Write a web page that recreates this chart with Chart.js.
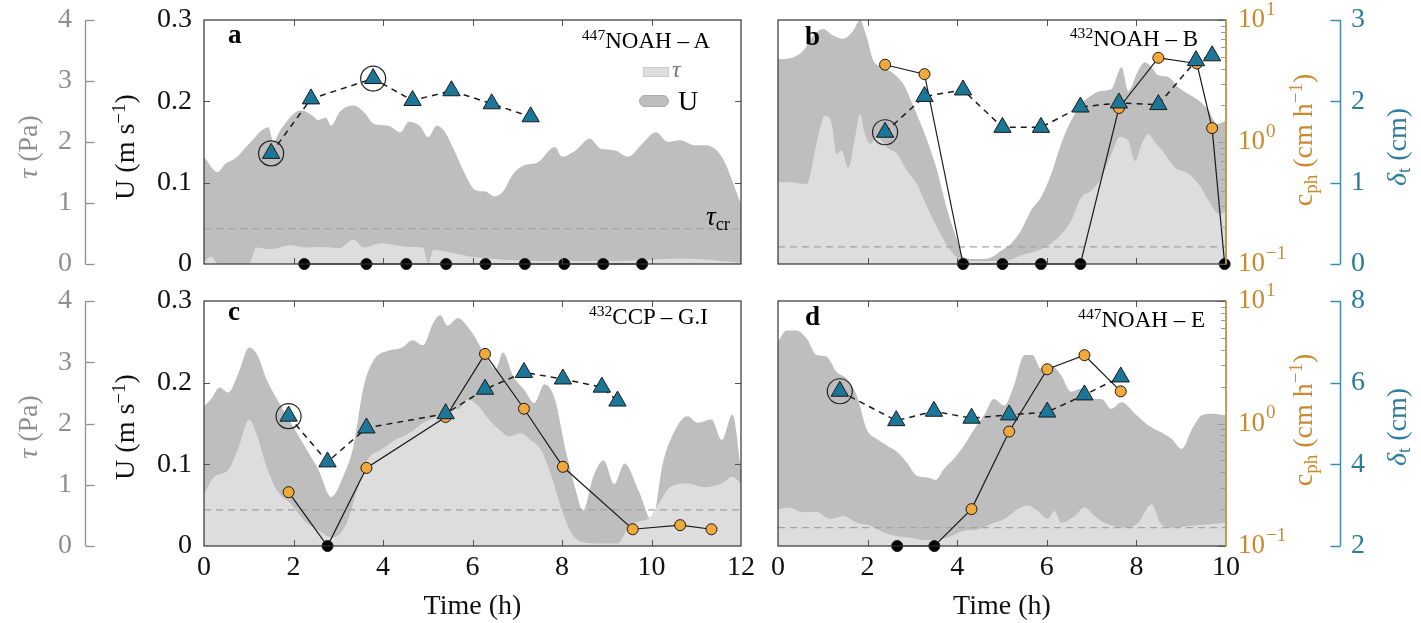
<!DOCTYPE html>
<html>
<head>
<meta charset="utf-8">
<script src="https://cdn.jsdelivr.net/npm/chart.js@4.4.0/dist/chart.umd.min.js"></script>
<style>
  body { margin: 0; background: #fff; width: 1421px; height: 623px; position: relative; overflow: hidden;
         font-family: "Liberation Serif", "DejaVu Serif", serif; }
  canvas { position: absolute; }
  .lab { position: absolute; white-space: nowrap; line-height: 1; z-index: 5; }
  .rot { transform: translate(-50%, -50%) rotate(-90deg); }
  .sup { font-size: 68%; vertical-align: 0.5em; }
  .sub { font-size: 68%; vertical-align: -0.25em; }
  .sw { position: absolute; z-index: 5; }
</style>
</head>
<body>
<canvas id="ca" width="760" height="280" style="left:0;top:0"></canvas>
<canvas id="cb" width="681" height="280" style="left:740px;top:0"></canvas>
<canvas id="cc" width="760" height="343" style="left:0;top:280px"></canvas>
<canvas id="cd" width="681" height="343" style="left:740px;top:280px"></canvas>

<!-- left axis titles -->
<div class="lab rot" style="left:28px;top:147px;color:#8f8f8f;font-size:28px"><i>τ</i> (Pa)</div>
<div class="lab rot" style="left:124px;top:147px;color:#111;font-size:28px">U (m s<span class="sup">−1</span>)</div>
<div class="lab rot" style="left:28px;top:427px;color:#8f8f8f;font-size:28px"><i>τ</i> (Pa)</div>
<div class="lab rot" style="left:124px;top:427px;color:#111;font-size:28px">U (m s<span class="sup">−1</span>)</div>
<!-- right axis titles -->
<div class="lab rot" style="left:1303px;top:140px;color:#c98a30;font-size:28px">c<span class="sub">ph</span> (cm h<span class="sup">−1</span>)</div>
<div class="lab rot" style="left:1398px;top:147px;color:#2d7c9b;font-size:28px"><i>δ</i><span class="sub">t</span> (cm)</div>
<div class="lab rot" style="left:1303px;top:420px;color:#c98a30;font-size:28px">c<span class="sub">ph</span> (cm h<span class="sup">−1</span>)</div>
<div class="lab rot" style="left:1398px;top:427px;color:#2d7c9b;font-size:28px"><i>δ</i><span class="sub">t</span> (cm)</div>

<!-- panel letters -->
<div class="lab" style="left:228px;top:21px;font-size:27px;font-weight:bold">a</div>
<div class="lab" style="left:805px;top:23px;font-size:27px;font-weight:bold">b</div>
<div class="lab" style="left:228px;top:298px;font-size:27px;font-weight:bold">c</div>
<div class="lab" style="left:805px;top:303px;font-size:27px;font-weight:bold">d</div>

<!-- site labels -->
<div class="lab" style="right:711px;top:27px;font-size:23px"><span class="sup">447</span>NOAH – A</div>
<div class="lab" style="right:223px;top:25px;font-size:23px"><span class="sup">432</span>NOAH – B</div>
<div class="lab" style="right:713px;top:303px;font-size:23px"><span class="sup">432</span>CCP – G.I</div>
<div class="lab" style="right:216px;top:306px;font-size:23px"><span class="sup">447</span>NOAH – E</div>

<!-- legend in panel a -->
<div class="sw" style="left:643px;top:67px;width:24px;height:8px;background:#dddddd;border:1px solid #cbcbcb"></div>
<div class="lab" style="left:672px;top:57px;font-size:24px;font-style:italic;color:#777">τ</div>
<div class="sw" style="left:639px;top:95px;width:28px;height:10px;background:#bebebe;border:1px solid #ababab;border-radius:6px"></div>
<div class="lab" style="left:678px;top:87px;font-size:28px">U</div>

<!-- tau_cr label -->
<div class="lab" style="left:706px;top:203px;font-size:27px"><i>τ</i><span class="sub">cr</span></div>

<script>
// ---------- panel a : 447NOAH - A ----------
const aUTime = [0, 0.31, 0.47, 0.70, 1.01, 1.44, 1.55, 1.71, 2.17, 2.41, 2.56, 2.72, 2.84, 3.03, 3.34, 3.57, 3.81, 4.12, 4.39, 4.58, 4.82, 5.01, 5.20, 5.36, 5.59, 5.83, 6.06, 6.29, 6.49, 6.68, 6.91, 7.15, 7.46, 7.84, 8.0, 8.31, 8.62, 8.86, 9.17, 9.48, 9.79, 10.1, 10.37, 10.64, 10.95, 11.18, 11.57, 12];
const aU = [0.132, 0.113, 0.123, 0.130, 0.148, 0.168, 0.150, 0.165, 0.189, 0.183, 0.177, 0.180, 0.170, 0.187, 0.195, 0.187, 0.172, 0.170, 0.162, 0.175, 0.170, 0.156, 0.170, 0.164, 0.140, 0.111, 0.091, 0.089, 0.083, 0.089, 0.111, 0.121, 0.125, 0.144, 0.132, 0.140, 0.154, 0.142, 0.140, 0.132, 0.148, 0.162, 0.150, 0.152, 0.146, 0.146, 0.132, 0.074];
const aTauTime = [0, 0.16, 0.31, 1.01, 1.17, 1.48, 1.94, 2.25, 2.64, 3.03, 3.34, 3.57, 3.96, 4.27, 4.58, 4.89, 5.01, 5.13, 5.51, 5.98, 6.52, 7.30, 8.08, 9.24, 10.64, 11.57, 12];
const aTau = [0.04, 0.12, 0.01, 0.01, 0.27, 0.24, 0.31, 0.27, 0.28, 0.26, 0.40, 0.27, 0.34, 0.31, 0.28, 0.27, 0.01, 0.23, 0.19, 0.12, 0.08, 0.05, 0.05, 0.05, 0.09, 0.05, 0.02];
const aTauCr = 0.58;
const aDeltaTime = [1.5, 2.39, 3.78, 4.66, 5.53, 6.43, 7.30];
const aDelta = [1.36, 2.03, 2.28, 2.01, 2.13, 1.97, 1.81];
const aCircled = [0, 2];
const aCphTime = [2.24, 3.63, 4.52, 5.41, 6.29, 7.17, 8.05, 8.92, 9.79];
const aCph = [0, 0, 0, 0, 0, 0, 0, 0, 0];

// ---------- panel b : 432NOAH - B ----------
const bUTime = [0, 0.26, 0.56, 0.79, 1.01, 1.23, 1.46, 1.68, 1.83, 1.98, 2.13, 2.36, 2.58, 2.80, 3.03, 3.33, 3.55, 3.78, 4.00, 4.15, 4.45, 4.75, 4.97, 5.20, 5.42, 5.65, 5.87, 6.10, 6.32, 6.54, 6.77, 6.99, 7.22, 7.44, 7.67, 7.82, 8.04, 8.19, 8.34, 8.49, 8.71, 8.94, 9.16, 9.39, 9.61, 9.80, 10];
const bU = [0.252, 0.253, 0.262, 0.281, 0.289, 0.281, 0.277, 0.287, 0.300, 0.279, 0.250, 0.242, 0.234, 0.221, 0.193, 0.152, 0.115, 0.066, 0.029, 0.008, 0.006, 0.008, 0.016, 0.025, 0.041, 0.066, 0.082, 0.111, 0.148, 0.176, 0.197, 0.207, 0.213, 0.215, 0.242, 0.213, 0.238, 0.248, 0.242, 0.232, 0.230, 0.217, 0.209, 0.201, 0.189, 0.172, 0.176];
const bTauTime = [0, 0.26, 0.64, 0.86, 1.05, 1.20, 1.31, 1.42, 1.57, 1.72, 1.83, 1.94, 2.06, 2.21, 2.43, 2.66, 2.88, 3.10, 3.33, 3.55, 3.78, 4.00, 4.30, 5.05, 5.42, 5.80, 6.17, 6.54, 6.77, 6.99, 7.22, 7.44, 7.63, 7.82, 7.97, 8.12, 8.27, 8.42, 8.64, 8.86, 9.16, 9.39, 9.61, 9.84, 10];
const bTau = [1.34, 1.34, 1.31, 1.97, 2.43, 2.30, 1.80, 1.86, 1.58, 2.08, 2.46, 2.13, 1.97, 2.08, 1.91, 1.80, 1.53, 1.31, 0.93, 0.60, 0.30, 0.11, 0.05, 0.05, 0.14, 0.22, 0.38, 0.71, 1.09, 1.20, 1.42, 1.80, 2.08, 2.02, 1.69, 1.97, 2.13, 1.99, 1.80, 1.58, 1.48, 1.31, 1.04, 0.82, 0.87];
const bTauCr = 0.28;
const bDeltaTime = [2.39, 3.27, 4.13, 5.01, 5.87, 6.75, 7.61, 8.49, 9.33, 9.69];
const bDelta = [1.62, 2.06, 2.14, 1.68, 1.68, 1.93, 1.98, 1.96, 2.50, 2.56];
const bCircled = [0];
const bCphTime = [2.39, 3.27, 4.13, 5.01, 5.87, 6.75, 7.61, 8.49, 9.35, 9.69, 9.97];
const bCph = [4.3, 3.6, 0, 0, 0, 0, 1.9, 4.9, 4.4, 1.3, 0];

// ---------- panel c : 432CCP - G.I ----------
const cUTime = [0, 0.16, 0.35, 0.54, 0.78, 1.01, 1.20, 1.40, 1.63, 1.94, 2.25, 2.56, 2.84, 3.11, 3.34, 3.57, 3.81, 4.12, 4.43, 4.66, 4.89, 5.13, 5.28, 5.44, 5.67, 5.98, 6.29, 6.52, 6.68, 6.91, 7.15, 7.38, 7.61, 7.84, 8.08, 8.31, 8.47, 8.70, 8.93, 9.17, 9.40, 9.71, 10.02, 10.25, 10.49, 10.80, 11.03, 11.34, 11.57, 11.81, 12];
const cU = [0.171, 0.180, 0.194, 0.188, 0.213, 0.243, 0.233, 0.204, 0.180, 0.151, 0.122, 0.093, 0.060, 0.085, 0.122, 0.196, 0.229, 0.239, 0.243, 0.252, 0.246, 0.274, 0.283, 0.270, 0.279, 0.262, 0.233, 0.217, 0.237, 0.208, 0.192, 0.175, 0.198, 0.180, 0.118, 0.068, 0.043, 0.085, 0.105, 0.076, 0.101, 0.068, 0.031, 0.101, 0.138, 0.159, 0.151, 0.155, 0.130, 0.161, 0.093];
const cTauTime = [0, 0.23, 0.54, 0.78, 1.01, 1.17, 1.40, 1.63, 1.94, 2.25, 2.56, 2.87, 3.18, 3.42, 3.65, 3.96, 4.27, 4.58, 4.89, 5.20, 5.44, 5.67, 5.90, 6.14, 6.37, 6.60, 6.83, 7.07, 7.30, 7.53, 7.77, 8.0, 8.23, 8.47, 8.85, 9.24, 9.48, 9.71, 9.94, 10.17, 10.41, 10.80, 11.18, 11.57, 11.81, 12];
const cTau = [0.85, 1.13, 1.24, 1.62, 2.06, 1.84, 1.29, 0.91, 0.69, 0.41, 0.25, 0.14, 0.36, 0.91, 1.40, 1.57, 1.73, 1.84, 2.01, 2.12, 2.28, 2.23, 2.39, 2.28, 2.06, 1.90, 1.79, 1.84, 1.73, 1.57, 1.13, 0.58, 0.19, 0.06, 0.04, 0.04, 0.30, 0.40, 0.45, 0.70, 0.96, 1.02, 0.96, 1.02, 1.13, 1.02];
const cTauCr = 0.59;
const cDeltaTime = [1.89, 2.76, 3.63, 5.40, 6.28, 7.15, 8.02, 8.89, 9.24];
const cDelta = [5.18, 4.06, 4.89, 5.24, 5.84, 6.25, 6.09, 5.89, 5.55];
const cCircled = [0];
const cCphTime = [1.89, 2.76, 3.63, 5.40, 6.28, 7.15, 8.02, 9.58, 10.64, 11.34];
const cCph = [0.275, 0, 0.434, 1.13, 3.70, 1.32, 0.443, 0.137, 0.148, 0.137];

// ---------- panel d : 447NOAH - E ----------
const dUTime = [0, 0.19, 0.41, 0.64, 0.86, 1.08, 1.31, 1.53, 1.76, 1.98, 2.21, 2.43, 2.66, 2.88, 3.10, 3.33, 3.52, 3.70, 3.93, 4.15, 4.38, 4.60, 4.82, 5.05, 5.27, 5.50, 5.68, 5.87, 6.10, 6.32, 6.54, 6.77, 6.99, 7.22, 7.44, 7.67, 7.97, 8.26, 8.56, 8.79, 9.01, 9.24, 9.46, 9.69, 10];
const dU = [0.250, 0.264, 0.264, 0.254, 0.234, 0.232, 0.213, 0.205, 0.184, 0.143, 0.131, 0.123, 0.115, 0.102, 0.086, 0.084, 0.081, 0.094, 0.107, 0.123, 0.143, 0.160, 0.180, 0.172, 0.197, 0.234, 0.234, 0.217, 0.221, 0.209, 0.189, 0.193, 0.180, 0.180, 0.168, 0.176, 0.162, 0.148, 0.139, 0.131, 0.119, 0.143, 0.160, 0.162, 0.160];
const dTauTime = [0, 0.26, 0.56, 0.86, 1.16, 1.46, 1.76, 2.06, 2.36, 2.66, 2.95, 3.25, 3.55, 3.85, 4.15, 4.45, 4.75, 5.05, 5.35, 5.57, 5.80, 6.02, 6.17, 6.32, 6.62, 6.84, 7.07, 7.29, 7.74, 8.04, 8.34, 8.53, 8.79, 9.24, 10];
const dTau = [0.60, 0.63, 0.55, 0.56, 0.44, 0.49, 0.38, 0.33, 0.22, 0.16, 0.14, 0.10, 0.10, 0.16, 0.25, 0.27, 0.36, 0.44, 0.60, 0.66, 0.57, 0.44, 0.57, 0.38, 0.49, 0.63, 0.49, 0.38, 0.30, 0.38, 0.68, 0.38, 0.30, 0.33, 0.38];
const dTauCr = 0.30;
const dDeltaTime = [1.38, 2.64, 3.48, 4.32, 5.16, 6.01, 6.84, 7.65];
const dDelta = [5.79, 5.07, 5.30, 5.13, 5.21, 5.28, 5.70, 6.14];
const dCircled = [0];
const dCphTime = [2.66, 3.49, 4.32, 5.16, 6.01, 6.84, 7.65];
const dCph = [0, 0, 0.20, 0.86, 2.77, 3.61, 1.83];

// axis ticks
const cphTickValues = [0.1, 1, 10];
const cphTickExp = ['−1', '0', '1'];

const FONT = '"Liberation Serif", "DejaVu Serif", serif';
const DARK = '#bebebe', LIGHT = '#dddddd';
const ORANGE = '#f1a93b', TEAL = '#1b7697';
const TAU_COL = '#8f8f8f', CPH_COL = '#c98a30', CPH_LINE = '#d9a247';
const DEL_COL = '#2d7c9b', DEL_LINE = '#3d8cab';

const pts = (xs, ys) => xs.map((x, i) => ({ x: x, y: ys[i] }));

// frame, inward ticks and the bracket-style outer axes
const decor = {
  id: 'decor',
  afterDatasetsDraw(chart) {
    const { ctx, chartArea: a, scales } = chart;
    const side = chart.options.plugins.decor.side;
    const seg = (x1, y1, x2, y2) => { ctx.beginPath(); ctx.moveTo(x1, y1); ctx.lineTo(x2, y2); ctx.stroke(); };
    ctx.save();
    ctx.lineWidth = 1;
    ctx.strokeStyle = '#555';
    const xs = scales.x;
    for (let v = 2; v < xs.max; v += 2) {
      const px = Math.round(xs.getPixelForValue(v)) + 0.5;
      seg(px, a.top, px, a.top + 6);
      seg(px, a.bottom, px, a.bottom - 6);
    }
    if (side === 'left') {
      for (const v of [0.1, 0.2]) {
        const py = Math.round(scales.u.getPixelForValue(v)) + 0.5;
        seg(a.left, py, a.left + 6, py);
        seg(a.right, py, a.right - 6, py);
      }
    } else {
      ctx.strokeStyle = '#9c9c9c';
      for (const dec of [0.1, 1]) {
        for (let k = 1; k <= 9; k++) {
          const py = Math.round(scales.c.getPixelForValue(k * dec)) + 0.5;
          seg(a.right, py, a.right - (k === 1 ? 8 : 5), py);
        }
      }
      const pt = Math.round(scales.c.getPixelForValue(10)) + 0.5;
      seg(a.right, pt, a.right - 8, pt);
    }
    ctx.strokeStyle = '#333';
    ctx.lineWidth = 1.2;
    ctx.strokeRect(a.left, a.top, a.width, a.height);
    if (side === 'right') {
      ctx.strokeStyle = CPH_LINE;
      ctx.lineWidth = 1.6;
      seg(a.right, a.top - 0.6, a.right, a.bottom + 0.6);
    }
    ctx.restore();
  },
  afterDraw(chart) {
    const { ctx, scales } = chart;
    const side = chart.options.plugins.decor.side;
    const seg = (x1, y1, x2, y2) => { ctx.beginPath(); ctx.moveTo(x1, y1); ctx.lineTo(x2, y2); ctx.stroke(); };
    ctx.save();
    if (side === 'left') {
      const t = scales.tau, lx = t.right - 9.5;
      ctx.strokeStyle = TAU_COL;
      ctx.lineWidth = 1.3;
      seg(lx, t.getPixelForValue(0), lx, t.getPixelForValue(4));
      t.ticks.forEach(tk => {
        const py = Math.round(t.getPixelForValue(tk.value)) + 0.5;
        seg(lx, py, lx + 9, py);
      });
    } else {
      const d = scales.d, lx = d.left + 10.5;
      ctx.strokeStyle = DEL_LINE;
      ctx.lineWidth = 1.5;
      seg(lx, d.getPixelForValue(d.min), lx, d.getPixelForValue(d.max));
      d.ticks.forEach(tk => {
        const py = Math.round(d.getPixelForValue(tk.value)) + 0.5;
        seg(lx - 10, py, lx, py);
      });
      const c = scales.c, x0 = c.left + 12;
      ctx.fillStyle = CPH_COL;
      ctx.textAlign = 'left';
      ctx.textBaseline = 'middle';
      cphTickValues.forEach((v, i) => {
        const py = c.getPixelForValue(v);
        ctx.font = '27px ' + FONT;
        ctx.fillText('10', x0, py);
        const w = ctx.measureText('10').width;
        ctx.font = '19px ' + FONT;
        ctx.fillText(cphTickExp[i], x0 + w + 1, py - 10);
      });
    }
    ctx.restore();
  }
};

function panel(id, p) {
  const isLeft = p.side === 'left';
  const isTop = p.row === 0;
  const xMax = isLeft ? 12 : 10;
  const tickFont = { family: FONT, size: 28, lineHeight: 1 };
  // fixed box sizes for the shown axes; no extra label overflow padding
  const fit = (show, key, size) => s => {
    if (show) s[key] = size;
    s.paddingTop = 0; s.paddingBottom = 0; s.paddingLeft = 0; s.paddingRight = 0;
  };
  const datasets = [
    { data: pts(p.uT, p.u), yAxisID: 'u', fill: 'origin', backgroundColor: DARK, borderWidth: 0,
      pointRadius: 0, cubicInterpolationMode: 'monotone', order: 10 },
    { data: pts(p.tauT, p.tau), yAxisID: 'tau', fill: 'origin', backgroundColor: LIGHT, borderWidth: 0,
      pointRadius: 0, cubicInterpolationMode: 'monotone', order: 9 },
    { data: [{ x: 0, y: p.tcr }, { x: xMax, y: p.tcr }], yAxisID: 'tau', fill: false,
      borderColor: '#a3a3a3', borderWidth: 1.2, borderDash: [7, 5], pointRadius: 0, order: 8 },
    { data: pts(p.cT, p.c.map(v => (v > 0 ? v : 0.1))), yAxisID: 'c', fill: false,
      borderColor: '#1a1a1a', borderWidth: 1.2, pointRadius: 5.5,
      pointBackgroundColor: p.c.map(v => (v > 0 ? ORANGE : '#000')),
      pointBorderColor: '#1a1a1a', pointBorderWidth: 1, clip: false, order: 3 },
    { data: pts(p.dT, p.d), yAxisID: 'd', fill: false, borderColor: '#1a1a1a', borderWidth: 1.5,
      borderDash: [6, 5], pointStyle: 'triangle', pointRadius: 10, pointBackgroundColor: TEAL,
      pointBorderColor: '#1a1a1a', pointBorderWidth: 1, order: 2 },
    { data: p.circled.map(i => ({ x: p.dT[i], y: p.d[i] })), yAxisID: 'd', showLine: false,
      pointRadius: 12.5, pointBackgroundColor: 'rgba(0,0,0,0)', pointBorderColor: '#222',
      pointBorderWidth: 1.2, order: 1 }
  ];
  return new Chart(document.getElementById(id), {
    type: 'line',
    data: { datasets: datasets },
    plugins: [decor],
    options: {
      responsive: false,
      animation: false,
      devicePixelRatio: 1,
      events: [],
      layout: { padding: { left: isLeft ? 0 : 38, right: isLeft ? 19 : 0, top: isTop ? 20 : 21, bottom: isTop ? 16 : 0 } },
      plugins: { legend: { display: false }, tooltip: { enabled: false }, decor: { side: p.side } },
      scales: {
        x: {
          type: 'linear', position: 'bottom', min: 0, max: xMax, display: !isTop,
          grid: { display: false }, border: { display: false },
          ticks: { stepSize: 2, color: '#111', font: tickFont, padding: 0, maxRotation: 0, autoSkip: false },
          title: { display: true, text: 'Time (h)', color: '#111', font: { family: FONT, size: 28 }, padding: { top: 0, bottom: 0 } },
          afterFit: fit(!isTop, 'height', 77)
        },
        tau: {
          type: 'linear', position: 'left', weight: 2, min: 0, max: 4, display: isLeft,
          grid: { display: false }, border: { display: false },
          ticks: { stepSize: 1, color: TAU_COL, font: tickFont, padding: 15 },
          afterFit: fit(isLeft, 'width', 95)
        },
        u: {
          type: 'linear', position: 'left', weight: 1, min: 0, max: 0.3, display: isLeft,
          grid: { display: false }, border: { display: false },
          ticks: { stepSize: 0.1, color: '#111', font: tickFont, padding: 4 },
          afterFit: fit(isLeft, 'width', 109)
        },
        c: {
          type: 'logarithmic', position: 'right', weight: 1, min: 0.1, max: 10, display: !isLeft,
          grid: { display: false }, border: { display: false },
          ticks: { display: false },
          afterFit: fit(!isLeft, 'width', 104)
        },
        d: {
          type: 'linear', position: 'right', weight: 2, min: isTop ? 0 : 2, max: isTop ? 3 : 8, display: !isLeft,
          grid: { display: false }, border: { display: false },
          ticks: { stepSize: isTop ? 1 : 2, color: DEL_COL, font: tickFont, padding: 13 },
          afterFit: fit(!isLeft, 'width', 91)
        }
      }
    }
  });
}

panel('ca', { side: 'left', row: 0, uT: aUTime, u: aU, tauT: aTauTime, tau: aTau, tcr: aTauCr,
  dT: aDeltaTime, d: aDelta, circled: aCircled, cT: aCphTime, c: aCph });
panel('cb', { side: 'right', row: 0, uT: bUTime, u: bU, tauT: bTauTime, tau: bTau, tcr: bTauCr,
  dT: bDeltaTime, d: bDelta, circled: bCircled, cT: bCphTime, c: bCph });
panel('cc', { side: 'left', row: 1, uT: cUTime, u: cU, tauT: cTauTime, tau: cTau, tcr: cTauCr,
  dT: cDeltaTime, d: cDelta, circled: cCircled, cT: cCphTime, c: cCph });
panel('cd', { side: 'right', row: 1, uT: dUTime, u: dU, tauT: dTauTime, tau: dTau, tcr: dTauCr,
  dT: dDeltaTime, d: dDelta, circled: dCircled, cT: dCphTime, c: dCph });
</script>
</body>
</html>
